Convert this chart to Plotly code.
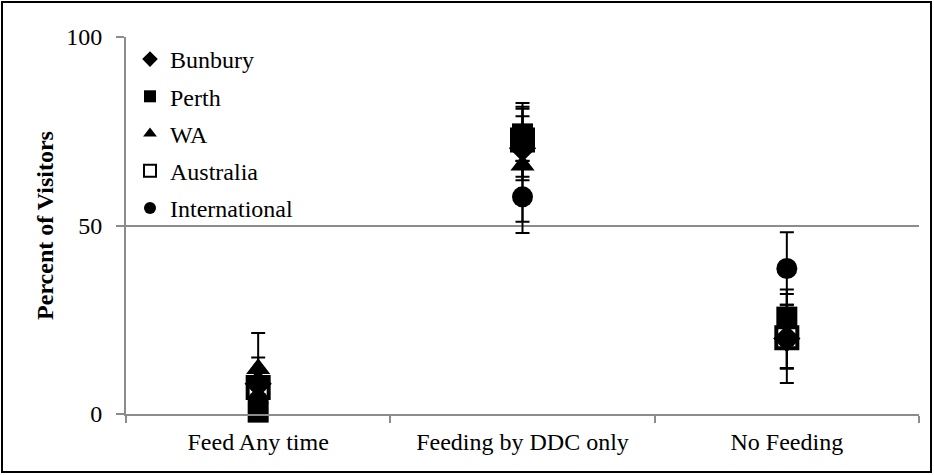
import plotly.graph_objects as go

categories = ["Feed Any time", "Feeding by DDC only", "No Feeding"]
series = ["Bunbury", "Perth", "WA", "Australia", "International"]

bunbury = [8.0, 70.5, 20.0]
perth = [0.5, 74.3, 25.7]
wa = [12.0, 66.0, 20.5]
australia = [7.0, 72.7, 20.2]
international = [3.5, 57.6, 38.6]

bunbury_err_plus = [7.0, 8.5, 11.8]
bunbury_err_minus = [0.0, 8.5, 11.8]
perth_err_plus = [6.0, 7.2, 7.3]
perth_err_minus = [0.0, 7.2, 7.3]
wa_err_plus = [9.5, 15.0, 8.5]
wa_err_minus = [0.0, 15.0, 8.5]
australia_err_plus = [5.0, 9.8, 8.0]
australia_err_minus = [0.0, 9.8, 8.0]
international_err_plus = [4.0, 9.6, 9.6]
international_err_minus = [0.0, 9.6, 9.6]

values = [bunbury, perth, wa, australia, international]
errp = [bunbury_err_plus, perth_err_plus, wa_err_plus, australia_err_plus, international_err_plus]
errm = [bunbury_err_minus, perth_err_minus, wa_err_minus, australia_err_minus, international_err_minus]

symbols = ["diamond", "square", "triangle-up", "square", "circle"]
fills = ["black", "black", "black", "white", "black"]
sizes = [21, 21, 21, 21, 21]
lws = [0, 0, 0, 4, 0]

# drawing order (hollow Australia first so filled markers sit on top); legend keeps series order
draw_order = [3, 0, 1, 2, 4]

FONT = "Times New Roman, Liberation Serif, DejaVu Serif, serif"
W, H = 934, 475
L, R, T, B = 126, 15, 37, 61

fig = go.Figure()
for i in draw_order:
    name = series[i]
    fig.add_trace(go.Scatter(
        x=categories, y=values[i], name=name, mode="markers",
        legendgroup=name, legendrank=1000 + i,
        marker=dict(symbol=symbols[i], color=fills[i], size=sizes[i],
                    line=dict(color="black", width=lws[i])),
        error_y=dict(type="data", symmetric=False, array=errp[i], arrayminus=errm[i],
                     color="black", thickness=2, width=7),
        cliponaxis=False,
    ))

pw = W - L - R
ph = H - T - B
fig.add_shape(type="rect", xref="paper", yref="paper",
              x0=(2 - L) / pw, x1=(W - 3 - L) / pw,
              y0=-(H - 3 - (H - B)) / ph,
              y1=1 + (T - 2) / ph,
              line=dict(color="black", width=2), fillcolor="rgba(0,0,0,0)", layer="below")

fig.update_layout(
    width=W, height=H,
    margin=dict(l=L, r=R, t=T, b=B),
    plot_bgcolor="white", paper_bgcolor="white",
    font=dict(family=FONT, size=24, color="black"),
    showlegend=True,
    legend=dict(x=4 / pw, y=1.0, xanchor="left", yanchor="top",
                bgcolor="rgba(0,0,0,0)", font=dict(family=FONT, size=24),
                tracegroupgap=3, itemsizing="constant"),
    xaxis=dict(type="category", range=[-0.5, 2.5], showline=True, linecolor="#8c8c8c",
               linewidth=2, ticks="outside", tickson="boundaries", ticklen=7,
               tickcolor="#8c8c8c", tickwidth=2, showgrid=False, zeroline=False,
               ticklabelstandoff=5,
               tickfont=dict(family=FONT, size=24)),
    yaxis=dict(range=[0, 100], tickvals=[0, 50, 100], showline=True, linecolor="#8c8c8c",
               linewidth=2, ticks="outside", ticklen=8, tickcolor="#8c8c8c", tickwidth=2,
               showgrid=True, gridcolor="#8c8c8c", gridwidth=2, zeroline=False,
               ticklabelstandoff=9,
               title=dict(text="<b>Percent of Visitors</b>", font=dict(family=FONT, size=24),
                          standoff=6),
               tickfont=dict(family=FONT, size=24)),
)

fig.write_html("out.html")
